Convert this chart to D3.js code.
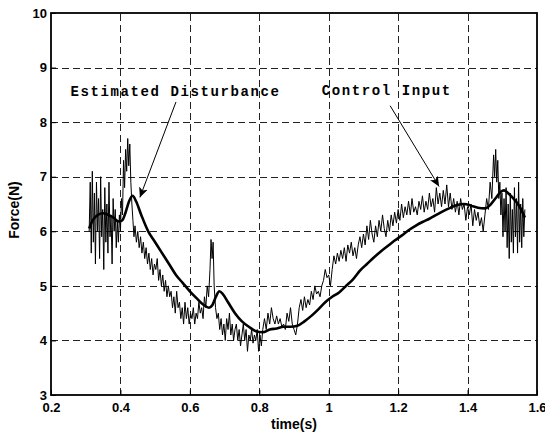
<!DOCTYPE html>
<html>
<head>
<meta charset="utf-8">
<script src="https://cdn.jsdelivr.net/npm/d3@7"></script>
<style>
  body { margin: 0; background: #fff; }
  svg { display: block; }
  .tick-label { font-family: "Liberation Sans", Arial, sans-serif; font-weight: bold; font-size: 13px; }
  .axis-title { font-family: "Liberation Sans", Arial, sans-serif; font-weight: bold; font-size: 14px; }
  .note { font-family: "Liberation Mono", "Courier New", monospace; font-weight: bold; font-size: 14px; letter-spacing: 1.6px; }
</style>
</head>
<body>
<div id="chart"></div>
<script>
// ---------------------------------------------------------------------------
// data

var xTicks = [0.2, 0.4, 0.6, 0.8, 1.0, 1.2, 1.4, 1.6];
var xTickLabels = ['0.2', '0.4', '0.6', '0.8', '1', '1.2', '1.4', '1.6'];
var yTicks = [3, 4, 5, 6, 7, 8, 9, 10];
var yTickLabels = ['3', '4', '5', '6', '7', '8', '9', '10'];

// control input (thin, noisy line): [time, force]
var controlInput = [
  [0.310, 6.0], [0.313, 6.9], [0.316, 5.6], [0.319, 7.1], [0.322, 5.8], [0.325, 6.7],
  [0.328, 5.4], [0.331, 6.9], [0.334, 6.0], [0.337, 6.6], [0.340, 5.5], [0.343, 7.0],
  [0.346, 5.9], [0.349, 6.4], [0.352, 5.3], [0.355, 6.8], [0.358, 5.8], [0.361, 6.5],
  [0.364, 5.6], [0.367, 6.9], [0.370, 5.9], [0.373, 6.3], [0.376, 5.4], [0.379, 6.6],
  [0.382, 6.0], [0.385, 6.4], [0.388, 5.7], [0.391, 6.2], [0.394, 5.8], [0.397, 6.3],
  [0.400, 6.0], [0.403, 6.6], [0.406, 6.3], [0.409, 7.3], [0.412, 6.8], [0.415, 7.5],
  [0.418, 7.1], [0.421, 7.7], [0.424, 7.2], [0.427, 7.6], [0.430, 6.9], [0.433, 6.5],
  [0.436, 6.2], [0.439, 5.9], [0.442, 6.1], [0.446, 5.8], [0.450, 6.0], [0.454, 5.7],
  [0.458, 5.9], [0.462, 5.6], [0.466, 5.8], [0.470, 5.5], [0.474, 5.7], [0.478, 5.4],
  [0.482, 5.6], [0.486, 5.3], [0.490, 5.5], [0.494, 5.2], [0.498, 5.4], [0.502, 5.3],
  [0.506, 5.5], [0.510, 5.1], [0.514, 5.3], [0.518, 5.0], [0.522, 5.2], [0.526, 4.9],
  [0.530, 5.1], [0.534, 4.8], [0.538, 5.0], [0.542, 4.8], [0.546, 4.9], [0.550, 4.6],
  [0.554, 4.8], [0.558, 4.5], [0.562, 4.9], [0.566, 4.6], [0.570, 4.7], [0.574, 4.4],
  [0.578, 4.6], [0.582, 4.3], [0.586, 4.7], [0.590, 4.4], [0.594, 4.6], [0.598, 4.3],
  [0.602, 4.5], [0.606, 4.4], [0.610, 4.6], [0.614, 4.3], [0.618, 4.5], [0.622, 4.4],
  [0.626, 4.7], [0.630, 4.5], [0.634, 4.6], [0.638, 4.4], [0.642, 4.8], [0.646, 4.6],
  [0.650, 5.0], [0.654, 4.8], [0.658, 5.3], [0.661, 5.85], [0.664, 5.5], [0.667, 5.8],
  [0.670, 5.0], [0.674, 4.6], [0.678, 4.4], [0.682, 4.5], [0.686, 4.2], [0.690, 4.4],
  [0.694, 4.1], [0.698, 4.3], [0.702, 4.0], [0.706, 4.4], [0.710, 4.2], [0.714, 4.5],
  [0.718, 4.1], [0.722, 4.3], [0.726, 4.0], [0.730, 4.2], [0.734, 4.3], [0.738, 4.0],
  [0.742, 4.2], [0.746, 3.9], [0.750, 4.1], [0.754, 4.3], [0.758, 4.0], [0.762, 4.2],
  [0.766, 3.8], [0.770, 4.1], [0.774, 4.0], [0.778, 4.2], [0.782, 3.95], [0.786, 4.1],
  [0.790, 4.0], [0.794, 4.2], [0.798, 3.8], [0.802, 4.1], [0.806, 3.9], [0.810, 4.2],
  [0.815, 4.4], [0.820, 4.2], [0.825, 4.5], [0.830, 4.3], [0.835, 4.6], [0.840, 4.4],
  [0.845, 4.3], [0.850, 4.45], [0.855, 4.3], [0.860, 4.4], [0.865, 4.25], [0.870, 4.3],
  [0.875, 4.2], [0.880, 4.5], [0.885, 4.35], [0.890, 4.6], [0.895, 4.3], [0.900, 4.2],
  [0.905, 4.1], [0.910, 4.3], [0.915, 4.6], [0.920, 4.75], [0.925, 4.55], [0.930, 4.8],
  [0.935, 4.6], [0.940, 4.75], [0.945, 4.65], [0.950, 4.9], [0.955, 4.75], [0.960, 5.0],
  [0.965, 4.85], [0.970, 4.9], [0.975, 4.8], [0.980, 5.0], [0.985, 5.1], [0.990, 5.3],
  [0.995, 5.15], [1.000, 5.2], [1.005, 5.0], [1.010, 5.3], [1.015, 5.55], [1.020, 5.4],
  [1.025, 5.6], [1.030, 5.45], [1.035, 5.65], [1.040, 5.5], [1.045, 5.7], [1.050, 5.45],
  [1.055, 5.75], [1.060, 5.6], [1.065, 5.8], [1.070, 5.55], [1.075, 5.7], [1.080, 5.5],
  [1.085, 5.75], [1.090, 5.9], [1.095, 5.7], [1.100, 5.95], [1.105, 5.75], [1.110, 6.1],
  [1.115, 5.85], [1.120, 6.2], [1.125, 5.95], [1.130, 5.8], [1.135, 6.1], [1.140, 5.9],
  [1.145, 6.2], [1.150, 6.0], [1.155, 6.3], [1.160, 6.05], [1.165, 5.9], [1.170, 6.2],
  [1.175, 6.0], [1.180, 6.3], [1.185, 6.1], [1.190, 6.35], [1.195, 6.15], [1.200, 6.4],
  [1.205, 6.2], [1.210, 6.5], [1.215, 6.25], [1.220, 6.45], [1.225, 6.3], [1.230, 6.55],
  [1.235, 6.3], [1.240, 6.6], [1.245, 6.35], [1.250, 6.45], [1.255, 6.3], [1.260, 6.55],
  [1.265, 6.4], [1.270, 6.65], [1.275, 6.35], [1.280, 6.55], [1.285, 6.4], [1.290, 6.7],
  [1.295, 6.45], [1.300, 6.6], [1.305, 6.35], [1.310, 6.8], [1.315, 6.5], [1.320, 6.7],
  [1.325, 6.45], [1.330, 6.75], [1.335, 6.5], [1.340, 6.85], [1.345, 6.45], [1.350, 6.7],
  [1.355, 6.4], [1.360, 6.6], [1.365, 6.35], [1.370, 6.55], [1.375, 6.3], [1.380, 6.6],
  [1.385, 6.4], [1.390, 6.5], [1.395, 6.2], [1.400, 6.45], [1.405, 6.3], [1.410, 6.5],
  [1.415, 6.1], [1.420, 6.4], [1.425, 6.2], [1.430, 6.35], [1.435, 6.1], [1.440, 6.25],
  [1.445, 6.0], [1.450, 6.3], [1.455, 6.6], [1.460, 6.4], [1.465, 6.9], [1.470, 6.6],
  [1.475, 7.4], [1.478, 7.0], [1.481, 7.5], [1.484, 6.9], [1.487, 7.3], [1.490, 6.6],
  [1.493, 6.9], [1.496, 6.3], [1.499, 6.7], [1.502, 5.9], [1.505, 6.6], [1.508, 6.0],
  [1.511, 6.8], [1.514, 5.7], [1.517, 6.5], [1.520, 5.5], [1.523, 6.7], [1.526, 5.8],
  [1.529, 6.4], [1.532, 5.6], [1.535, 6.8], [1.538, 5.9], [1.541, 6.6], [1.544, 5.6],
  [1.547, 6.9], [1.550, 5.8], [1.553, 6.5], [1.556, 5.7], [1.559, 6.6], [1.562, 5.9],
  [1.565, 6.4]
];

// estimated disturbance (thick, smooth line): [time, force]
var estimatedDisturbance = [
  [0.310, 6.05], [0.320, 6.2], [0.335, 6.3], [0.350, 6.33], [0.365, 6.3], [0.380, 6.25],
  [0.395, 6.18], [0.405, 6.2], [0.415, 6.35], [0.425, 6.55], [0.435, 6.65], [0.445, 6.55],
  [0.460, 6.3], [0.480, 6.0], [0.500, 5.8], [0.520, 5.6], [0.540, 5.4], [0.560, 5.2],
  [0.580, 5.05], [0.600, 4.9], [0.620, 4.77], [0.640, 4.65], [0.655, 4.6], [0.665, 4.65],
  [0.675, 4.8], [0.685, 4.9], [0.695, 4.85], [0.710, 4.7], [0.730, 4.5], [0.750, 4.35],
  [0.770, 4.25], [0.790, 4.17], [0.810, 4.15], [0.830, 4.2], [0.850, 4.22], [0.870, 4.25],
  [0.890, 4.25], [0.910, 4.27], [0.930, 4.35], [0.950, 4.45], [0.970, 4.57], [0.990, 4.7],
  [1.010, 4.8], [1.030, 4.88], [1.050, 5.0], [1.070, 5.12], [1.090, 5.28], [1.110, 5.4],
  [1.130, 5.52], [1.150, 5.63], [1.170, 5.73], [1.190, 5.83], [1.210, 5.92], [1.230, 6.02],
  [1.250, 6.1], [1.270, 6.17], [1.290, 6.23], [1.310, 6.3], [1.330, 6.37], [1.350, 6.43],
  [1.370, 6.48], [1.390, 6.5], [1.410, 6.47], [1.430, 6.43], [1.450, 6.42], [1.465, 6.48],
  [1.480, 6.6], [1.495, 6.72], [1.505, 6.75], [1.520, 6.68], [1.535, 6.58], [1.550, 6.45],
  [1.565, 6.25]
];

// annotations: text anchor and arrow tail/tip, in data units
var noteLabels = ['Estimated Disturbance', 'Control Input'];
var noteText = [[0.256, 8.48], [0.98, 8.5]];
var noteTail = [[0.56, 8.37], [1.177, 8.3]];
var noteTip = [[0.456, 6.62], [1.318, 6.82]];

// ---------------------------------------------------------------------------

var width = 545, height = 435;
var plot = { left: 51, right: 537, top: 13, bottom: 395 };

var svg = d3.select('#chart')
  .append('svg')
  .attr('width', width)
  .attr('height', height);

var x = d3.scaleLinear().domain([0.2, 1.6]).range([plot.left, plot.right]);
var y = d3.scaleLinear().domain([3, 10]).range([plot.bottom, plot.top]);

var defs = svg.append('defs');
defs.append('clipPath')
  .attr('id', 'plot-clip')
  .append('rect')
  .attr('x', plot.left)
  .attr('y', plot.top)
  .attr('width', plot.right - plot.left)
  .attr('height', plot.bottom - plot.top);
defs.append('marker')
  .attr('id', 'arrow')
  .attr('viewBox', '0 0 10 10')
  .attr('refX', 10)
  .attr('refY', 5)
  .attr('markerWidth', 10)
  .attr('markerHeight', 10)
  .attr('markerUnits', 'userSpaceOnUse')
  .attr('orient', 'auto')
  .append('path')
  .attr('d', 'M0,0.5 L10,5 L0,9.5 L2.5,5 Z')
  .attr('fill', '#000');

// dashed grid
var grid = svg.append('g').attr('class', 'grid')
  .attr('stroke', '#222')
  .attr('stroke-width', 1)
  .attr('stroke-dasharray', '7,4');
grid.selectAll('line.v')
  .data(xTicks.slice(1, -1))
  .enter().append('line')
  .attr('class', 'v')
  .attr('x1', function(d) { return Math.round(x(d)) + 0.5; })
  .attr('x2', function(d) { return Math.round(x(d)) + 0.5; })
  .attr('y1', plot.bottom)
  .attr('y2', plot.top);
grid.selectAll('line.h')
  .data(yTicks.slice(1, -1))
  .enter().append('line')
  .attr('class', 'h')
  .attr('x1', plot.left)
  .attr('x2', plot.right)
  .attr('y1', function(d) { return Math.round(y(d)) + 0.5; })
  .attr('y2', function(d) { return Math.round(y(d)) + 0.5; });

// series
var line = d3.line()
  .x(function(d) { return x(d[0]); })
  .y(function(d) { return y(d[1]); });

var series = svg.append('g').attr('clip-path', 'url(#plot-clip)');
series.append('path')
  .datum(controlInput)
  .attr('fill', 'none')
  .attr('stroke', '#000')
  .attr('stroke-width', 1)
  .attr('stroke-linejoin', 'round')
  .attr('d', line);
series.append('path')
  .datum(estimatedDisturbance)
  .attr('fill', 'none')
  .attr('stroke', '#000')
  .attr('stroke-width', 2.6)
  .attr('stroke-linejoin', 'round')
  .attr('d', d3.line().curve(d3.curveMonotoneX)
    .x(function(d) { return x(d[0]); })
    .y(function(d) { return y(d[1]); }));

// axes, MATLAB style: inward ticks, box
var xAxis = d3.axisBottom(x)
  .tickValues(xTicks)
  .tickFormat(function(d, i) { return xTickLabels[i]; })
  .tickSize(-5)
  .tickPadding(8);
var yAxis = d3.axisLeft(y)
  .tickValues(yTicks)
  .tickFormat(function(d, i) { return yTickLabels[i]; })
  .tickSize(-5)
  .tickPadding(4);

var gx = svg.append('g')
  .attr('transform', 'translate(0,' + plot.bottom + ')')
  .call(xAxis);
var gy = svg.append('g')
  .attr('transform', 'translate(' + plot.left + ',0)')
  .call(yAxis);
[gx, gy].forEach(function(g) {
  g.select('.domain').remove();
  g.selectAll('.tick line').attr('stroke', '#000').attr('stroke-width', 1);
  g.selectAll('.tick text')
    .attr('class', 'tick-label')
    .attr('fill', '#000')
    .style('font-family', null)
    .style('font-size', null);
  g.attr('font-family', null).attr('font-size', null);
});

svg.append('rect')
  .attr('x', plot.left)
  .attr('y', plot.top)
  .attr('width', plot.right - plot.left)
  .attr('height', plot.bottom - plot.top)
  .attr('fill', 'none')
  .attr('stroke', '#000')
  .attr('stroke-width', 1.8);

svg.append('text')
  .attr('class', 'axis-title')
  .attr('x', (plot.left + plot.right) / 2)
  .attr('y', 429)
  .attr('text-anchor', 'middle')
  .text('time(s)');
svg.append('text')
  .attr('class', 'axis-title')
  .attr('transform', 'translate(19,' + ((plot.top + plot.bottom) / 2 + 6) + ') rotate(-90)')
  .attr('text-anchor', 'middle')
  .text('Force(N)');

// annotations
var notes = svg.append('g').attr('class', 'notes');
notes.selectAll('text')
  .data(noteLabels)
  .enter().append('text')
  .attr('class', 'note')
  .attr('x', function(d, i) { return x(noteText[i][0]); })
  .attr('y', function(d, i) { return y(noteText[i][1]); })
  .text(function(d) { return d; });
notes.selectAll('line')
  .data(noteLabels)
  .enter().append('line')
  .attr('x1', function(d, i) { return x(noteTail[i][0]); })
  .attr('y1', function(d, i) { return y(noteTail[i][1]); })
  .attr('x2', function(d, i) { return x(noteTip[i][0]); })
  .attr('y2', function(d, i) { return y(noteTip[i][1]); })
  .attr('stroke', '#000')
  .attr('stroke-width', 1)
  .attr('marker-end', 'url(#arrow)');
</script>
</body>
</html>
